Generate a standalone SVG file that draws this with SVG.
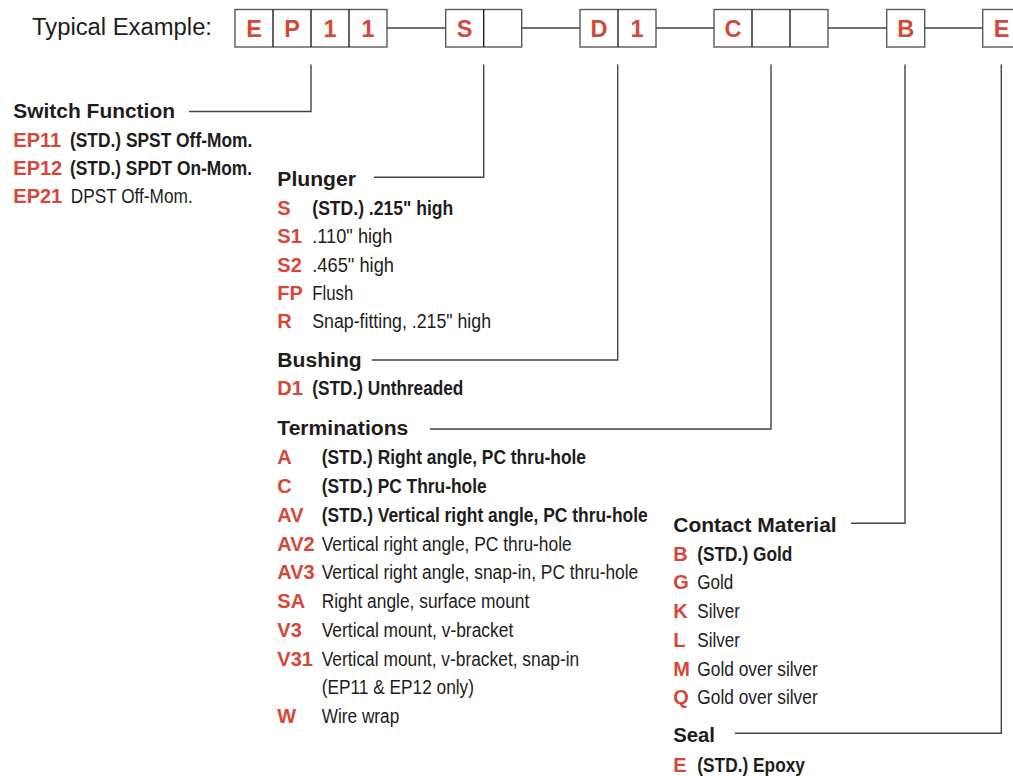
<svg xmlns="http://www.w3.org/2000/svg" width="1013" height="776" viewBox="0 0 1013 776">
<style>
text{font-family:"Liberation Sans",Arial,sans-serif;fill:#1f1c1d}
.title{font-size:23px}
.box{fill:#fff;stroke:#5a5a5a;stroke-width:1.4}
.div{stroke:#222;stroke-width:1.4}
.bl{font-size:23.5px;font-weight:bold;fill:#d4483a;text-anchor:middle}
.h{font-size:20px;font-weight:bold}
.c{font-size:20px;font-weight:bold;fill:#d4483a}
.d{font-size:19.5px}
.db{font-size:19.5px;font-weight:bold}
.ln{fill:none;stroke:#444;stroke-width:1.4}
</style>
<rect width="1013" height="776" fill="#fff"/>
<g id="example">
<text class="title" x="32" y="35" textLength="180" lengthAdjust="spacingAndGlyphs">Typical Example:</text>
<rect class="box" x="235" y="9.5" width="152" height="37.5"/>
<line class="div" x1="273" y1="9.5" x2="273" y2="47"/>
<line class="div" x1="311" y1="9.5" x2="311" y2="47"/>
<line class="div" x1="349" y1="9.5" x2="349" y2="47"/>
<text class="bl" x="254" y="37.3">E</text>
<text class="bl" x="292" y="37.3">P</text>
<text class="bl" x="330" y="37.3">1</text>
<text class="bl" x="368" y="37.3">1</text>
<rect class="box" x="445.7" y="9.5" width="76" height="37.5"/>
<line class="div" x1="483.7" y1="9.5" x2="483.7" y2="47"/>
<text class="bl" x="464.7" y="37.3">S</text>
<rect class="box" x="580" y="9.5" width="76" height="37.5"/>
<line class="div" x1="618" y1="9.5" x2="618" y2="47"/>
<text class="bl" x="599" y="37.3">D</text>
<text class="bl" x="637" y="37.3">1</text>
<rect class="box" x="714" y="9.5" width="114" height="37.5"/>
<line class="div" x1="752" y1="9.5" x2="752" y2="47"/>
<line class="div" x1="790" y1="9.5" x2="790" y2="47"/>
<text class="bl" x="733" y="37.3">C</text>
<rect class="box" x="886.7" y="9.5" width="38" height="37.5"/>
<text class="bl" x="905.7" y="37.3">B</text>
<rect class="box" x="982.7" y="9.5" width="38" height="37.5"/>
<text class="bl" x="1001.7" y="37.3">E</text>
</g>
<g id="connectors">
<path class="ln" d="M387,28H445.7M521.7,28H580M656,28H714M828,28H886.7M924.7,28H982.7"/>
<path class="ln" d="M189,111.5H311V64.5"/>
<path class="ln" d="M374,177.3H483.7V64.5"/>
<path class="ln" d="M371.7,360H617.7V64.5"/>
<path class="ln" d="M430,429H771V64.5"/>
<path class="ln" d="M851,523.3H905V64.5"/>
<path class="ln" d="M735,733.3H1001.3V64.5"/>
</g>
<g id="switch-function">
<text class="h" x="13.3" y="118.3" textLength="161.7" lengthAdjust="spacingAndGlyphs">Switch Function</text>
<text class="c" x="13.3" y="146.7">EP11</text>
<text class="db" x="70" y="146.7" textLength="182.3" lengthAdjust="spacingAndGlyphs">(STD.) SPST Off-Mom.</text>
<text class="c" x="13.3" y="175">EP12</text>
<text class="db" x="70" y="175" textLength="182" lengthAdjust="spacingAndGlyphs">(STD.) SPDT On-Mom.</text>
<text class="c" x="13.3" y="203">EP21</text>
<text class="d" x="70.7" y="203" textLength="122" lengthAdjust="spacingAndGlyphs">DPST Off-Mom.</text>
</g>
<g id="plunger">
<text class="h" x="277.3" y="186" textLength="78.7" lengthAdjust="spacingAndGlyphs">Plunger</text>
<text class="c" x="277.3" y="215">S</text>
<text class="db" x="312.3" y="215" textLength="141" lengthAdjust="spacingAndGlyphs">(STD.) .215" high</text>
<text class="c" x="277.3" y="243.3">S1</text>
<text class="d" x="312.3" y="243.3" textLength="80" lengthAdjust="spacingAndGlyphs">.110" high</text>
<text class="c" x="277.3" y="271.7">S2</text>
<text class="d" x="312.3" y="271.7" textLength="81.7" lengthAdjust="spacingAndGlyphs">.465" high</text>
<text class="c" x="277.3" y="300">FP</text>
<text class="d" x="312.3" y="300" textLength="41" lengthAdjust="spacingAndGlyphs">Flush</text>
<text class="c" x="277.3" y="328.3">R</text>
<text class="d" x="312.3" y="328.3" textLength="178.7" lengthAdjust="spacingAndGlyphs">Snap-fitting, .215" high</text>
</g>
<g id="bushing">
<text class="h" x="277.3" y="366.7" textLength="84.4" lengthAdjust="spacingAndGlyphs">Bushing</text>
<text class="c" x="277.3" y="395">D1</text>
<text class="db" x="312.3" y="395" textLength="151" lengthAdjust="spacingAndGlyphs">(STD.) Unthreaded</text>
</g>
<g id="terminations">
<text class="h" x="277.3" y="435" textLength="131" lengthAdjust="spacingAndGlyphs">Terminations</text>
<text class="c" x="277.3" y="464.3">A</text>
<text class="db" x="321.7" y="464.3" textLength="264.3" lengthAdjust="spacingAndGlyphs">(STD.) Right angle, PC thru-hole</text>
<text class="c" x="277.3" y="493.3">C</text>
<text class="db" x="321.7" y="493.3" textLength="165" lengthAdjust="spacingAndGlyphs">(STD.) PC Thru-hole</text>
<text class="c" x="277.3" y="521.7">AV</text>
<text class="db" x="321.7" y="521.7" textLength="326" lengthAdjust="spacingAndGlyphs">(STD.) Vertical right angle, PC thru-hole</text>
<text class="c" x="277.3" y="550.7">AV2</text>
<text class="d" x="321.7" y="550.7" textLength="250" lengthAdjust="spacingAndGlyphs">Vertical right angle, PC thru-hole</text>
<text class="c" x="277.3" y="579.3">AV3</text>
<text class="d" x="321.7" y="579.3" textLength="316.6" lengthAdjust="spacingAndGlyphs">Vertical right angle, snap-in, PC thru-hole</text>
<text class="c" x="277.3" y="608.3">SA</text>
<text class="d" x="321.7" y="608.3" textLength="207.6" lengthAdjust="spacingAndGlyphs">Right angle, surface mount</text>
<text class="c" x="277.3" y="636.7">V3</text>
<text class="d" x="321.7" y="636.7" textLength="191.6" lengthAdjust="spacingAndGlyphs">Vertical mount, v-bracket</text>
<text class="c" x="277.3" y="665.7">V31</text>
<text class="d" x="321.7" y="665.7" textLength="257.6" lengthAdjust="spacingAndGlyphs">Vertical mount, v-bracket, snap-in</text>
<text class="d" x="321.7" y="694.3" textLength="152.3" lengthAdjust="spacingAndGlyphs">(EP11 &amp; EP12 only)</text>
<text class="c" x="277.3" y="722.7">W</text>
<text class="d" x="321.7" y="722.7" textLength="77.6" lengthAdjust="spacingAndGlyphs">Wire wrap</text>
</g>
<g id="contact-material">
<text class="h" x="673.3" y="531.7" textLength="163.4" lengthAdjust="spacingAndGlyphs">Contact Material</text>
<text class="c" x="673.3" y="560.7">B</text>
<text class="db" x="697.3" y="560.7" textLength="95" lengthAdjust="spacingAndGlyphs">(STD.) Gold</text>
<text class="c" x="673.3" y="589.3">G</text>
<text class="d" x="697.3" y="589.3" textLength="36" lengthAdjust="spacingAndGlyphs">Gold</text>
<text class="c" x="673.3" y="617.7">K</text>
<text class="d" x="697.3" y="617.7" textLength="42.7" lengthAdjust="spacingAndGlyphs">Silver</text>
<text class="c" x="673.3" y="646.7">L</text>
<text class="d" x="697.3" y="646.7" textLength="42.7" lengthAdjust="spacingAndGlyphs">Silver</text>
<text class="c" x="673.3" y="675.7">M</text>
<text class="d" x="697.3" y="675.7" textLength="120.4" lengthAdjust="spacingAndGlyphs">Gold over silver</text>
<text class="c" x="673.3" y="704">Q</text>
<text class="d" x="697.3" y="704" textLength="120.4" lengthAdjust="spacingAndGlyphs">Gold over silver</text>
</g>
<g id="seal">
<text class="h" x="673.3" y="742.3" textLength="41.7" lengthAdjust="spacingAndGlyphs">Seal</text>
<text class="c" x="673.3" y="771.7">E</text>
<text class="db" x="697.3" y="771.7" textLength="107.7" lengthAdjust="spacingAndGlyphs">(STD.) Epoxy</text>
</g>
</svg>
